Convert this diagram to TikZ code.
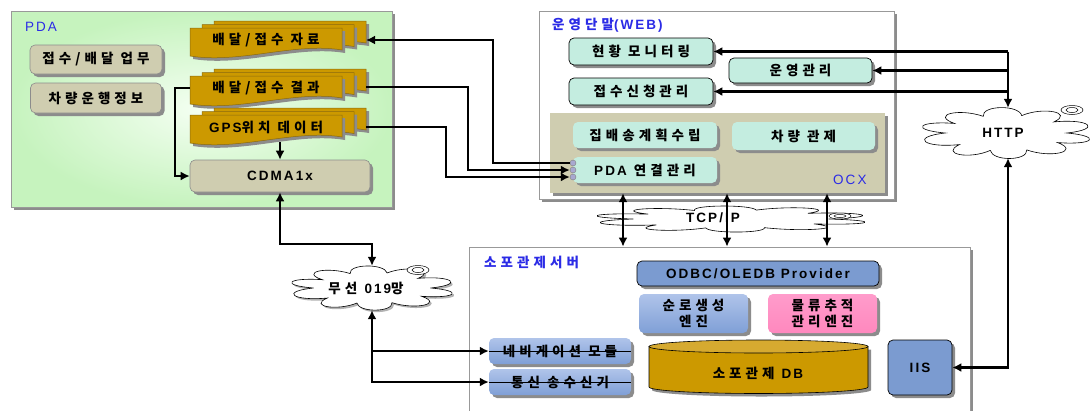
\documentclass[tikz,border=0pt]{standalone}
\usepackage{fontspec}
\setmainfont{Noto Sans CJK KR}[LetterSpace=30]
\newfontfamily\lat{Liberation Sans}[LetterSpace=15]
\newcommand\lt[1]{{\lat\fontsize{13.5}{16}\selectfont #1}}
\usetikzlibrary{shapes.symbols,shadows,arrows.meta,calc}
\definecolor{gold}{HTML}{CC9900}
\definecolor{golddark}{HTML}{8A6A10}
\definecolor{goldlight}{HTML}{D6AA30}
\definecolor{khaki}{HTML}{CFCDB0}
\definecolor{mint}{HTML}{C4EDE0}
\definecolor{bluebox}{HTML}{7B9BD0}
\definecolor{pdain}{HTML}{F4FFF2}
\definecolor{pdaout}{HTML}{C6F3BE}
\definecolor{labblue}{HTML}{2B2BE6}
\definecolor{circfill}{HTML}{A8A8D0}
\definecolor{gbtop}{HTML}{B0C4EA}
\definecolor{gbbot}{HTML}{7F9FD6}
\definecolor{pktop}{HTML}{FF9CCB}
\definecolor{pkbot}{HTML}{FF88BE}
% cloud outline: centre x, centre y, x scale, y scale, path options
\newcommand\cloudpath[5]{%
  \begin{scope}[shift={(#1,#2)},xscale=#3,yscale=#4]
  \path[#5] (0:0.8)
    \foreach \a/\b in {0/32,32/70,70/105,105/140,140/180,180/212,212/248,248/285,285/322,322/360}
      { .. controls ({\a+0.2*(\b-\a)}:1.28) and ({\b-0.2*(\b-\a)}:1.28) .. (\b:0.8) } -- cycle;
  \end{scope}}
\begin{document}
\begin{tikzpicture}[x=1pt,y=-1pt,
  every node/.style={font=\bfseries\fontsize{13.5}{16}\selectfont},
  latf/.style={font=\bfseries\lat\fontsize{13.5}{16}\selectfont},
  shd/.style={drop shadow={shadow xshift=3pt,shadow yshift=-3pt,fill=black!45,opacity=1}},
  frame/.style={draw=black!40,fill=white,shd,inner sep=0,line width=0.8pt},
  kbox/.style={draw=black!45,fill=khaki,rounded corners=5pt,shd,inner sep=0,line width=0.6pt},
  mbox/.style={draw=black,fill=mint,rounded corners=5pt,shd,inner sep=0,line width=0.7pt},
  bbox/.style={draw=black,fill=bluebox,rounded corners=5pt,shd,inner sep=0,line width=0.7pt},
  gbox/.style={rounded corners=5pt,top color=gbtop,middle color=white,bottom color=gbbot,shd,inner sep=0},
  pbox/.style={rounded corners=5pt,top color=pktop,middle color=white,bottom color=pkbot,shd,inner sep=0},
  lbl/.style={text=labblue,anchor=west,inner sep=0},
  arr/.style={line width=2.2pt,-{Latex[length=9pt,width=9pt]}},
  darr/.style={line width=2.2pt,{Latex[length=9pt,width=9pt]}-{Latex[length=9pt,width=9pt]}},
  cloudline/.style={draw=black,fill=white,line width=0.6pt},
  anchorbox/.style={inner sep=0},
  mdocpic/.pic={\path[fill=gold,draw=golddark,line width=0.5pt,shd]
      (0,0) -- (152,0) -- (152,22) .. controls (105,14) and (50,36) .. (0,28) -- cycle;}
]
\clip (0,0) rectangle (1091,410);
\fill[white] (0,0) rectangle (1091,410);

% ---------- frames ----------
\node[draw=black!40,line width=0.8pt,inner color=pdain,outer color=pdaout,shd,inner sep=0,
      minimum width=381pt,minimum height=196pt] (pda) at (201.5,109) {};
\node[frame,minimum width=355pt,minimum height=188pt] (web) at (716.5,105) {};
\node[frame,minimum width=501pt,minimum height=180pt] (srv) at (719.5,337) {};
\node[fill=khaki,shd,inner sep=0,minimum width=335pt,minimum height=80pt] (ocx) at (717.5,153) {};

% ---------- labels ----------
\node[lbl,font=\mdseries\lat\fontsize{13.5}{16}\selectfont] (lpda) at (25,27) {PDA};
\node[lbl] (lweb) at (552,25) {운영단말\lt{(WEB)}};
\node[lbl,font=\mdseries\lat\fontsize{13.5}{16}\selectfont] (locx) at (833,180) {OCX};
\node[lbl] (lsrv) at (484,262) {소포관제서버};

% ---------- PDA ----------
\node[kbox,minimum width=132pt,minimum height=29pt] (jb) at (96,59.5) {접수/배달 업무};
\node[kbox,minimum width=131pt,minimum height=30pt] (cr) at (96,98) {차량운행정보};

\pic at (214,21) {mdocpic}; \pic at (202,24.5) {mdocpic}; \pic at (190,28) {mdocpic};
\node[inner sep=0,minimum width=152pt,minimum height=26pt] (d1) at (266,40) {배달/접수 자료};
\pic at (214,69) {mdocpic}; \pic at (202,72.5) {mdocpic}; \pic at (190,76) {mdocpic};
\node[inner sep=0,minimum width=152pt,minimum height=26pt] (d2) at (266,88) {배달/접수 결과};
\pic at (214,108) {mdocpic}; \pic at (202,111.5) {mdocpic}; \pic at (190,115) {mdocpic};
\node[inner sep=0,minimum width=152pt,minimum height=30pt] (d3) at (266,127) {\lt{GPS}위치 데이터};
\coordinate (d1e) at (366,40);
\coordinate (d2e) at (366,87);
\coordinate (d3e) at (366,127);

\node[kbox,latf,minimum width=180pt,minimum height=32pt] (cdma) at (280,176) {CDMA1x};

\draw[arr] (cdma.north |- d3.south) -- (cdma.north);
\draw[arr] (d2.west) -- ++(-15,0) |- (cdma.west);

% ---------- WEB ----------
\node[mbox,minimum width=144pt,minimum height=27pt] (mon) at (641,51.5) {현황 모니터링};
\node[mbox,minimum width=143pt,minimum height=25pt] (oper) at (800.5,70.5) {운영관리};
\node[mbox,minimum width=144pt,minimum height=27pt] (req) at (641,91.5) {접수신청관리};
\node[mbox,draw=none,minimum width=144pt,minimum height=26pt] (plan) at (645,135) {집배송계획수립};
\node[mbox,draw=none,minimum width=143pt,minimum height=28pt] (veh) at (803.5,136) {차량 관제};
\node[mbox,draw=none,minimum width=144pt,minimum height=26pt] (pdac) at (645,170) {\lt{PDA} 연결관리};

\node[circle,draw=black!50,fill=circfill,minimum size=6pt,inner sep=0] (c1) at (573,163) {};
\node[circle,draw=black!50,fill=circfill,minimum size=6pt,inner sep=0] (c2) at (573,170) {};
\node[circle,draw=black!50,fill=circfill,minimum size=6pt,inner sep=0] (c3) at (573,177) {};

\draw[arr] (c1.west) -- ++(-77,0) |- (d1e);
\draw[arr] (d2e) -- ++(102,0) |- (c2.west);
\draw[arr] (d3e) -- ++(80,0) |- (c3.west);

% ---------- clouds ----------
\cloudpath{374}{290}{73}{19.5}{fill=black!30}
\cloudpath{372}{288}{73}{19.5}{cloudline}
\node[anchorbox,minimum width=165pt,minimum height=44pt] (wl) at (372,288) {};
\node[inner sep=0] (wlt) at (366,288) {무선 \lt{019}망};
\draw[line width=0.5pt,fill=white] (418,270) ellipse [x radius=11, y radius=4.5];
\draw[line width=0.5pt] (418,270) ellipse [x radius=6, y radius=2.5];

\cloudpath{1006}{133}{76}{22.5}{cloudline}
\node[anchorbox,minimum width=172pt,minimum height=50pt] (http) at (1008,133) {};
\node[inner sep=0,latf] (httpt) at (1003,133) {HTTP};
\draw[line width=0.5pt,fill=white] (1072,110) ellipse [x radius=11, y radius=4.5];
\draw[line width=0.5pt] (1072,110) ellipse [x radius=6, y radius=2.5];

\cloudpath{731}{219}{122}{11.5}{cloudline}
\node[anchorbox,minimum width=278pt,minimum height=26pt] (tcp) at (731,219) {};
\node[inner sep=0,latf] (tcpt) at (713,218) {TCP/IP};
\draw[line width=0.5pt,fill=white] (840,216) ellipse [x radius=11, y radius=3];
\draw[line width=0.5pt] (840,216) ellipse [x radius=6, y radius=1.5];

% HTTP connections
\draw[arr] (http.north |- mon.east) -- (mon.east);
\draw[arr] (http.north |- oper.east) -- (oper.east);
\draw[arr] (http.north |- req.east) -- (req.east);
\draw[arr] (http.north |- mon.east) -- (http.north);

% TCP/IP
\draw[darr] (ocx.south -| 623,0) -- (srv.north -| 623,0);
\draw[darr] (ocx.south -| 727,0) -- (srv.north -| 727,0);
\draw[darr] (ocx.south -| 827,0) -- (srv.north -| 827,0);

% ---------- server ----------
\node[bbox,latf,minimum width=242pt,minimum height=25pt] (odbc) at (758,273.5) {ODBC/OLEDB Provider};
\node[gbox,minimum width=109pt,minimum height=39pt,align=center,font=\bfseries\fontsize{13.5}{16}\selectfont] (route) at (693.5,313.5) {순로생성\\엔진};
\node[pbox,minimum width=109pt,minimum height=39pt,align=center,font=\bfseries\fontsize{13.5}{16}\selectfont] (track) at (822.5,313.5) {물류추적\\관리엔진};

\path[fill=gold,draw=black,line width=0.6pt,shd] (649,346.5) -- (649,387)
   arc[start angle=180,end angle=0,x radius=109.5,y radius=6.5] -- (868,346.5) -- cycle;
\draw[fill=goldlight,line width=0.6pt] (758.5,346.5) ellipse [x radius=109.5, y radius=6.5];
\node[inner sep=0] (db) at (758,373) {소포관제 \lt{DB}};

\node[bbox,latf,minimum width=64pt,minimum height=55pt] (iis) at (920,367.5) {IIS};

\node[gbox,minimum width=142pt,minimum height=26pt] (navi) at (560,351) {네비게이션 모듈};
\node[gbox,minimum width=142pt,minimum height=26pt] (comm) at (560,382) {통신 송수신기};
\draw[line width=0.5pt] (navi.west) -- (navi.east);
\draw[line width=0.5pt] (comm.west) -- (comm.east);

% ---------- network connections ----------
\draw[darr] (cdma.south) -- ++(0,52) -| (wl.north);
\draw[darr] (wl.south) |- (comm.west);
\draw[arr] (wl.south |- navi.west) -- (navi.west);
\draw[darr] (http.south) |- (iis.east);
\end{tikzpicture}
\end{document}
